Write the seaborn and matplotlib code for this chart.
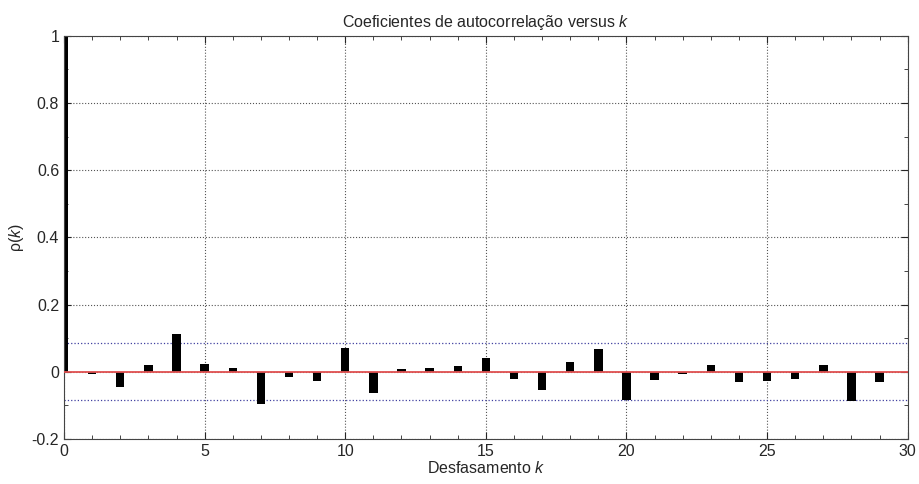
import numpy as np
import pandas as pd
import matplotlib
matplotlib.use("Agg")
import matplotlib.pyplot as plt
import seaborn as sns
from matplotlib.ticker import MultipleLocator

# lag and autocorrelation values
lags = list(range(0, 30))
rho = [1.0, -0.006, -0.046, 0.019, 0.113, 0.024, 0.012, -0.096, -0.016, -0.028,
       0.072, -0.063, 0.007, 0.012, 0.017, 0.042, -0.021, -0.053, 0.029, 0.068,
       -0.084, -0.025, -0.006, 0.019, -0.030, -0.028, -0.021, 0.019, -0.088, -0.030]
conf_bound = 0.085
x_ticks = [0, 5, 10, 15, 20, 25, 30]
y_ticks = [-0.2, 0, 0.2, 0.4, 0.6, 0.8, 1]
y_labels = ['-0.2', '0', '0.2', '0.4', '0.6', '0.8', '1']

sns.set_style("ticks")
plt.rcParams['font.family'] = ['Liberation Sans', 'DejaVu Sans']
plt.rcParams['mathtext.fontset'] = 'custom'
plt.rcParams['mathtext.rm'] = 'Liberation Sans'
plt.rcParams['mathtext.it'] = 'Liberation Sans:italic'
fs = 11.5

df = pd.DataFrame({'k': lags, 'rho': rho})

fig = plt.figure(figsize=(9.2, 4.84), dpi=100)
ax = fig.add_axes([0.0696, 0.093, 0.917, 0.833])

sns.barplot(data=df, x='k', y='rho', native_scale=True, width=0.3,
            color='black', saturation=1, linewidth=0, ax=ax, zorder=2)

ax.axhline(0, color='#e05050', linewidth=1.3, zorder=3)
ax.axhline(conf_bound, color='#4040a0', linestyle=':', linewidth=0.9, zorder=1)
ax.axhline(-conf_bound, color='#4040a0', linestyle=':', linewidth=0.9, zorder=1)

ax.set_xticks(x_ticks)
ax.set_xticklabels([str(t) for t in x_ticks])
ax.set_yticks(y_ticks)
ax.set_yticklabels(y_labels)
ax.xaxis.set_minor_locator(MultipleLocator(1))
ax.yaxis.set_minor_locator(MultipleLocator(0.1))
ax.set_xlim(0, 30)
ax.set_ylim(-0.2, 1)

ax.grid(True, which='major', linestyle=':', color='#555555', linewidth=0.8)
ax.tick_params(which='both', direction='in', top=True, right=True, labelsize=fs)
ax.tick_params(which='major', length=5)
ax.tick_params(which='minor', length=3)
for s in ax.spines.values():
    s.set_linewidth(0.8)
    s.set_color('#444444')

ax.set_title('Coeficientes de autocorrelação versus $k$', fontsize=fs, pad=6)
ax.set_xlabel('Desfasamento $k$', fontsize=fs, labelpad=1)
ax.set_ylabel('ρ($k$)', fontsize=fs, labelpad=4)

fig.savefig('out.png', dpi=100)
